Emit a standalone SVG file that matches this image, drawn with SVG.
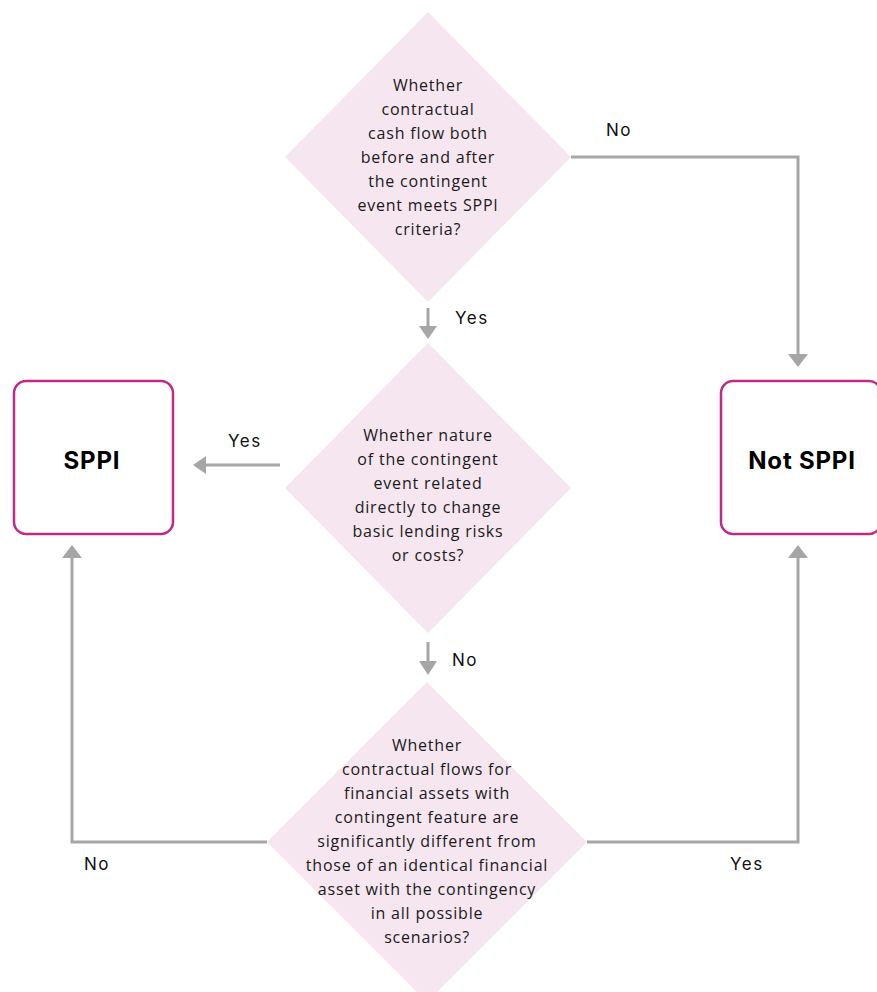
<svg xmlns="http://www.w3.org/2000/svg" width="877" height="992" viewBox="0 0 877 992">
<style>
.dia{fill:#F5E6F0;stroke:none}
.box{fill:#ffffff;stroke:#BE2A85;stroke-width:2.5}
.q{font-family:"Open Sans",Lato,sans-serif;font-size:16px;letter-spacing:0.8px;fill:#1a1a1a;text-anchor:middle}
.res{font-family:Inter,"Liberation Sans",sans-serif;font-size:24px;letter-spacing:0.8px;font-weight:bold;fill:#000;text-anchor:middle}
.lbl{font-family:Inter,"Liberation Sans",sans-serif;font-size:17px;letter-spacing:1.5px;fill:#111}
.con{fill:none;stroke:#A6A6A6;stroke-width:3}
.ah{fill:#A6A6A6}
</style>
<rect width="877" height="992" fill="#ffffff"/>
<g id="d1">
<polygon class="dia" points="428,12 571,157 428,302 285,157"/>
<text class="q"><tspan x="428" y="91">Whether</tspan><tspan x="428" y="115">contractual</tspan><tspan x="428" y="139">cash flow both</tspan><tspan x="428" y="163">before and after</tspan><tspan x="428" y="187">the contingent</tspan><tspan x="428" y="211">event meets SPPI</tspan><tspan x="428" y="235">criteria?</tspan></text>
</g>
<g id="d2">
<polygon class="dia" points="428,343 571,488 428,633 285,488"/>
<text class="q"><tspan x="428" y="441">Whether nature</tspan><tspan x="428" y="465">of the contingent</tspan><tspan x="428" y="489">event related</tspan><tspan x="428" y="513">directly to change</tspan><tspan x="428" y="537">basic lending risks</tspan><tspan x="428" y="561">or costs?</tspan></text>
</g>
<g id="d3">
<polygon class="dia" points="427,682 587,842 427,1002 267,842"/>
<text class="q"><tspan x="427" y="751">Whether</tspan><tspan x="427" y="775">contractual flows for</tspan><tspan x="427" y="799">financial assets with</tspan><tspan x="427" y="823">contingent feature are</tspan><tspan x="427" y="847">significantly different from</tspan><tspan x="427" y="871">those of an identical financial</tspan><tspan x="427" y="895">asset with the contingency</tspan><tspan x="427" y="919">in all possible</tspan><tspan x="427" y="943">scenarios?</tspan></text>
</g>
<g id="sppi">
<rect class="box" x="14" y="381" width="159" height="153" rx="12"/>
<text class="res" x="92" y="469">SPPI</text>
</g>
<g id="notsppi">
<rect class="box" x="721" y="381" width="160" height="153" rx="12"/>
<text class="res" x="802" y="469">Not SPPI</text>
</g>
<g id="connectors">
<path class="con" d="M571,157 H798 V354"/>
<polygon class="ah" points="788,354 808,354 798,367"/>
<path class="con" d="M428,308 V327"/>
<polygon class="ah" points="419,326 437,326 428,339"/>
<path class="con" d="M280,465 H205"/>
<polygon class="ah" points="206,456 206,474 193,465"/>
<path class="con" d="M428,642 V662"/>
<polygon class="ah" points="419,661 437,661 428,675"/>
<path class="con" d="M267,842 H72 V557"/>
<polygon class="ah" points="62,558 82,558 72,545"/>
<path class="con" d="M587,842 H798 V557"/>
<polygon class="ah" points="788,558 808,558 798,545"/>
<text class="lbl" x="606" y="136">No</text>
<text class="lbl" x="455" y="324">Yes</text>
<text class="lbl" x="228" y="447">Yes</text>
<text class="lbl" x="452" y="666">No</text>
<text class="lbl" x="84" y="870">No</text>
<text class="lbl" x="730" y="870">Yes</text>
</g>
</svg>
